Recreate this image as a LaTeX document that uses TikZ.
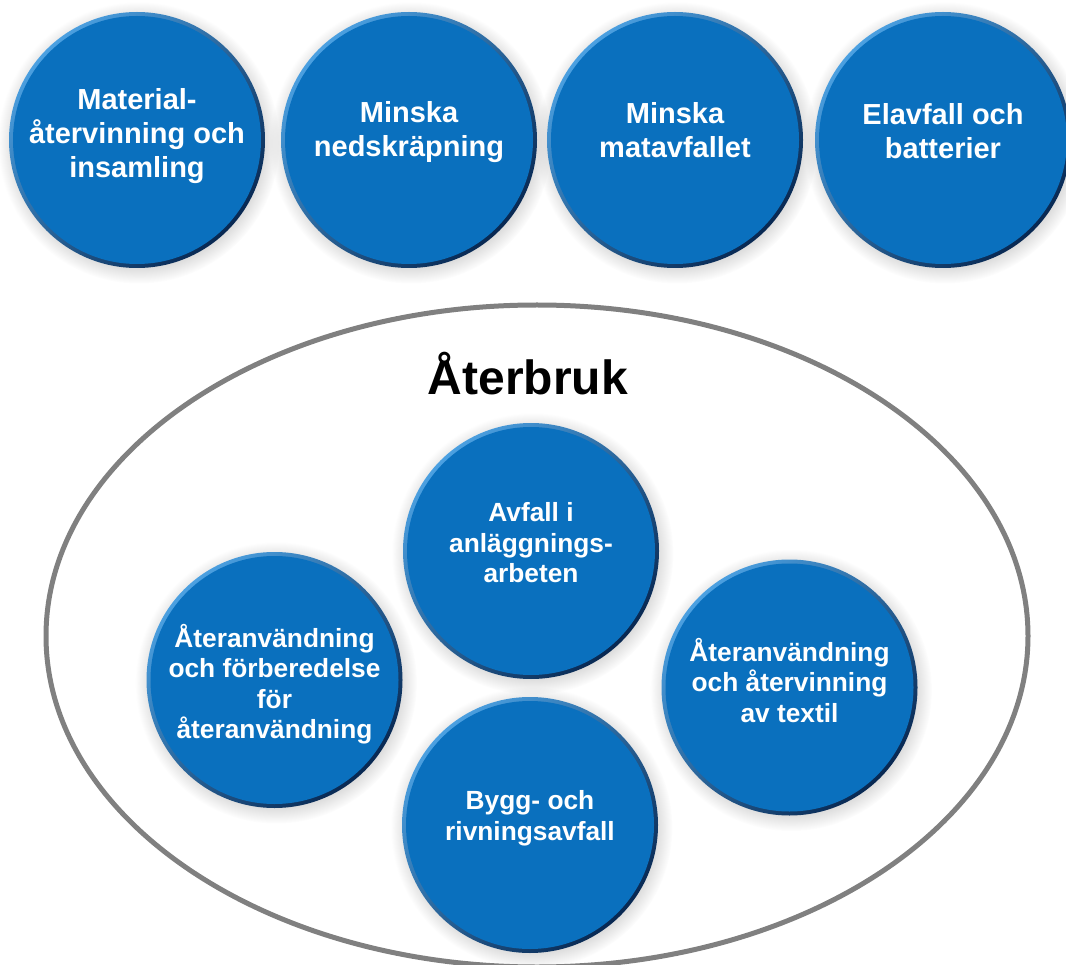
\documentclass[tikz,border=0pt]{standalone}
\usepackage{fontspec}
\setmainfont{Liberation Sans}
\usetikzlibrary{shadows}
\definecolor{discblue}{RGB}{10,112,190}
\definecolor{rimlight}{RGB}{75,160,225}
\definecolor{rimdark}{RGB}{8,40,82}
\definecolor{ringgray}{RGB}{128,128,128}
\begin{document}
\begin{tikzpicture}[x=1pt,y=1pt]
\tikzstyle{disc}=[circle, minimum size=256pt, inner sep=0pt,
  top color=rimlight, bottom color=rimdark, shading angle=45,
  path picture={\fill [discblue] (path picture bounding box.center) circle (124pt);},
  circular drop shadow={shadow xshift=1.5pt, shadow yshift=-2.5pt, opacity=0.35}]
\tikzstyle{bigtext}=[align=center, text=white, font=\fontsize{29}{34}\selectfont\bfseries]
\tikzstyle{smalltext}=[align=center, text=white, font=\fontsize{26.3}{30.5}\selectfont\bfseries]
\useasboundingbox (0,0) rectangle (1066,-965);
% top row
\node [disc, label={[bigtext, yshift=3.5pt]center:Material-\\återvinning och\\insamling}] (material) at (137,-140) {};
\node [disc, label={[bigtext, yshift=7.5pt]center:Minska\\nedskräpning}] (nedskrap) at (409,-140) {};
\node [disc, label={[bigtext, yshift=10pt]center:Minska\\matavfallet}] (matavfall) at (675,-140) {};
\node [disc, label={[bigtext, yshift=8.5pt]center:Elavfall och\\batterier}] (elavfall) at (943,-140) {};
% återbruk
\draw [ringgray, line width=5pt] (537,-636) ellipse (491pt and 331pt);
\node [anchor=base, font=\fontsize{48}{56}\selectfont\bfseries] (aterbruk) at (528,-395) {Återbruk};
\node [disc, label={[smalltext, yshift=8pt]center:Avfall i\\anläggnings-\\arbeten}] (anlagg) at (531,-551) {};
\node [disc, label={[smalltext, yshift=-4pt]center:Återanvändning\\och förberedelse\\för\\återanvändning}] (forbered) at (274.5,-680) {};
\node [disc, label={[smalltext, yshift=7pt]center:Återanvändning\\och återvinning\\av textil}] (textil) at (789.5,-687.5) {};
\node [disc, label={[smalltext, yshift=6.5pt]center:Bygg- och\\rivningsavfall}] (bygg) at (530,-825) {};
\end{tikzpicture}
\end{document}
